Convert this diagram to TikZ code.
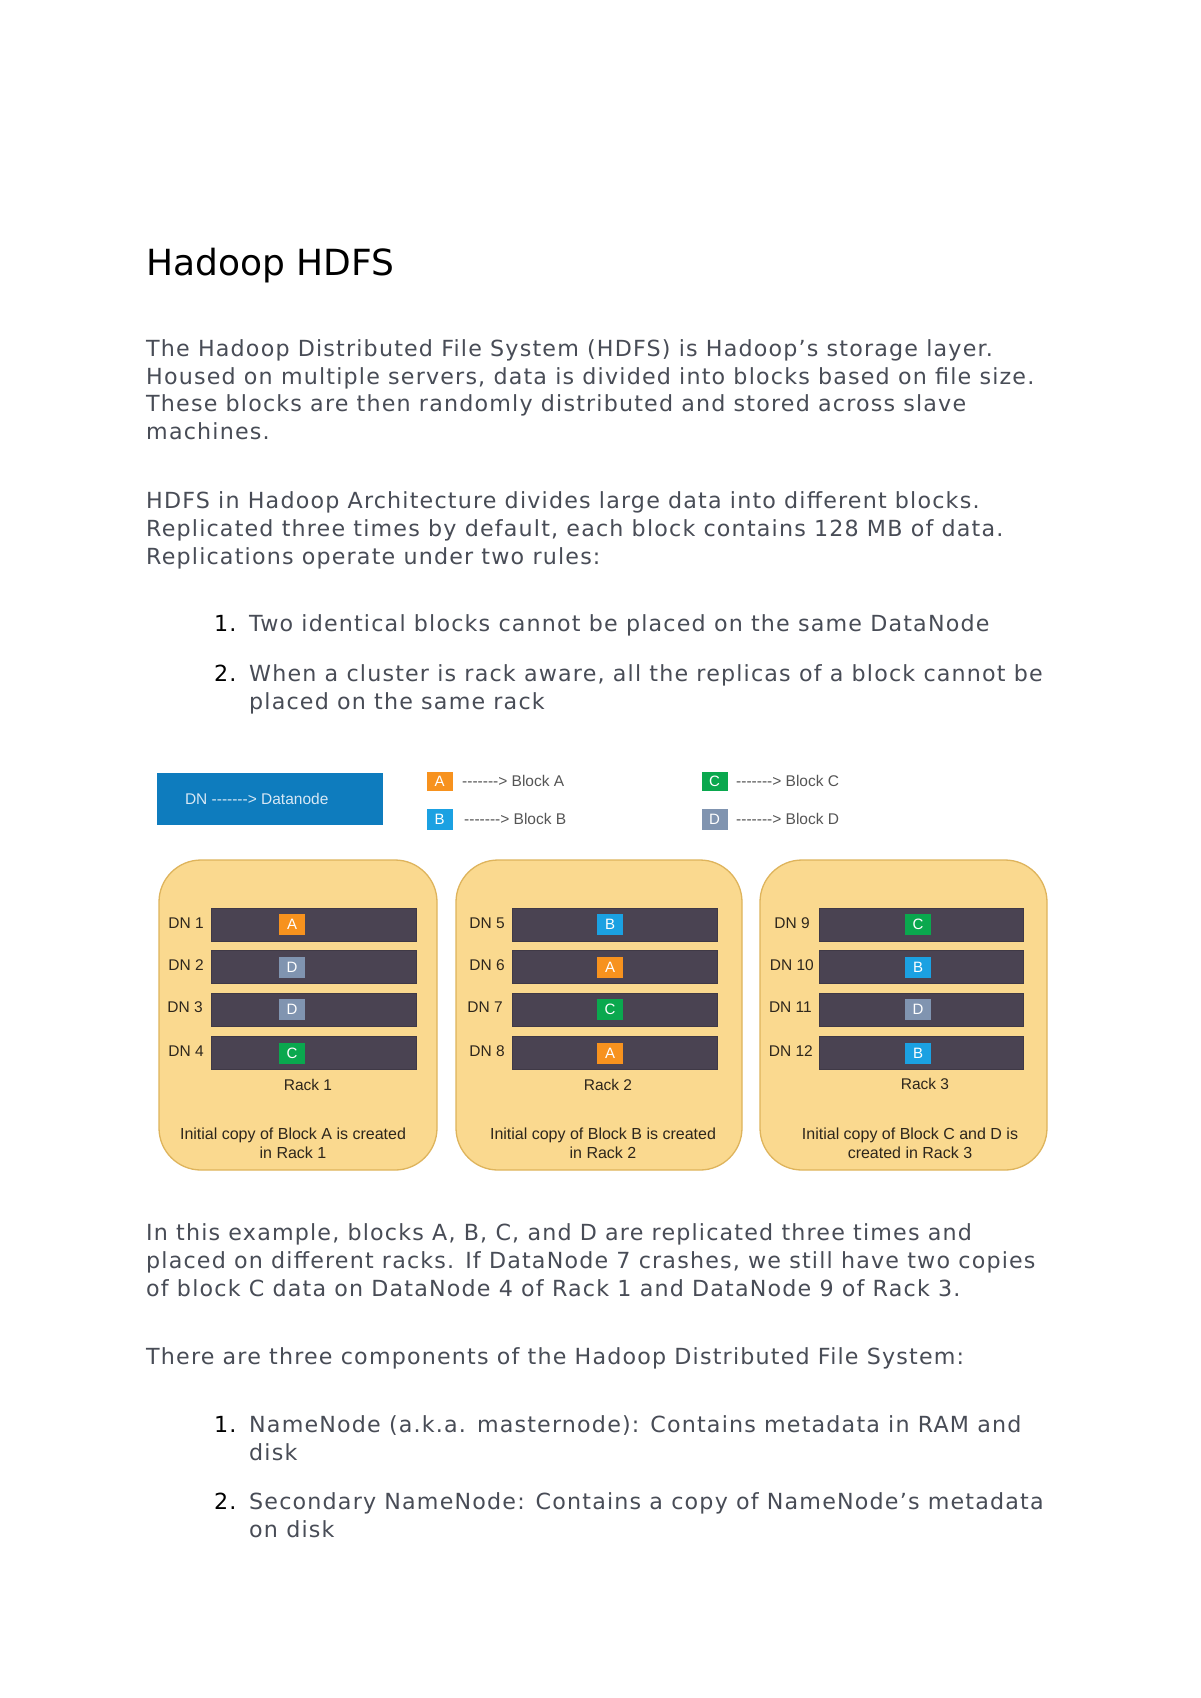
\documentclass[tikz,border=0pt]{standalone}
\usepackage{fontspec}
\setmainfont{DejaVu Sans}
\newfontfamily\bodyfont[LetterSpace=5.3]{DejaVu Sans}
\newfontfamily\diafont[Ligatures=TeXOff]{Liberation Sans}
\definecolor{bodytext}{RGB}{72,76,86}
\definecolor{dnblue}{RGB}{14,124,190}
\definecolor{dntextc}{RGB}{215,232,245}
\definecolor{blkA}{RGB}{247,146,30}
\definecolor{blkB}{RGB}{27,161,226}
\definecolor{blkC}{RGB}{10,168,78}
\definecolor{blkD}{RGB}{128,148,176}
\definecolor{rackfill}{RGB}{250,217,143}
\definecolor{rackedge}{RGB}{222,180,92}
\definecolor{barfill}{RGB}{74,67,82}
\definecolor{legtext}{RGB}{85,85,85}
\definecolor{racktext}{RGB}{45,38,28}
\tikzset{
  bodyline/.style={anchor=base west, inner sep=0pt, text=bodytext, font=\bodyfont\fontsize{22.2}{26}\selectfont},
  numline/.style={anchor=base west, inner sep=0pt, text=black, font=\bodyfont\fontsize{22.2}{26}\selectfont},
  titleline/.style={anchor=base west, inner sep=0pt, text=black, font=\fontsize{36}{40}\selectfont},
  rackbox/.style={draw=rackedge, fill=rackfill, line width=1.3pt, rounded corners=42pt, minimum height=310pt, inner sep=0pt},
  barbox/.style={fill=barfill, draw=barfill!85!black, line width=0.5pt, minimum width=205pt, minimum height=33pt, inner sep=0pt},
  blk/.style={minimum width=26pt, minimum height=21pt, inner sep=0pt, text=white, font=\diafont\fontsize{15}{15}\selectfont},
  dnlabel/.style={anchor=east, inner sep=0pt, text=racktext, font=\diafont\fontsize{15.5}{15.5}\selectfont},
  racklabel/.style={inner sep=0pt, text=racktext, font=\diafont\fontsize{15.5}{15.5}\selectfont},
  caption/.style={inner sep=0pt, align=center, text=racktext, font=\diafont\fontsize{16}{19}\selectfont},
  legtxt/.style={anchor=west, inner sep=0pt, text=legtext, font=\diafont\fontsize{15.5}{15.5}\selectfont},
}
\begin{document}
\begin{tikzpicture}[x=1pt,y=-1pt]
\useasboundingbox (0,0) rectangle (1200,1698);
\fill[white] (0,0) rectangle (1200,1698);

% ---------- text ----------
\node[titleline] (title) at (146,275) {Hadoop HDFS};

\node[bodyline] (p1a) at (146,356) {The Hadoop Distributed File System (HDFS) is Hadoop’s storage layer.};
\node[bodyline] (p1b) at (146,384) {Housed on multiple servers, data is divided into blocks based on file size.};
\node[bodyline] (p1c) at (146,411) {These blocks are then randomly distributed and stored across slave};
\node[bodyline] (p1d) at (146,439) {machines.};

\node[bodyline] (p2a) at (146,508) {HDFS in Hadoop Architecture divides large data into different blocks.};
\node[bodyline] (p2b) at (146,536) {Replicated three times by default, each block contains 128 MB of data.};
\node[bodyline] (p2c) at (146,564) {Replications operate under two rules:};

\node[numline] (n1) at (214,631) {1.};
\node[bodyline] (l1) at (249,631) {Two identical blocks cannot be placed on the same DataNode};
\node[numline] (n2) at (214,681) {2.};
\node[bodyline] (l2a) at (249,681) {When a cluster is rack aware, all the replicas of a block cannot be};
\node[bodyline] (l2b) at (249,709) {placed on the same rack};

\node[bodyline] (p3a) at (146,1240) {In this example, blocks A, B, C, and D are replicated three times and};
\node[bodyline] (p3b) at (146,1268) {placed on different racks. If DataNode 7 crashes, we still have two copies};
\node[bodyline] (p3c) at (146,1296) {of block C data on DataNode 4 of Rack 1 and DataNode 9 of Rack 3.};

\node[bodyline] (p4) at (146,1364) {There are three components of the Hadoop Distributed File System:};

\node[numline] (m1) at (214,1432) {1.};
\node[bodyline] (k1a) at (249,1432) {NameNode (a.k.a. masternode): Contains metadata in RAM and};
\node[bodyline] (k1b) at (249,1460) {disk};
\node[numline] (m2) at (214,1509) {2.};
\node[bodyline] (k2a) at (249,1509) {Secondary NameNode: Contains a copy of NameNode’s metadata};
\node[bodyline] (k2b) at (249,1537) {on disk};

% ---------- legend ----------
\node[fill=dnblue, minimum width=226pt, minimum height=52pt, inner sep=0pt] (dnbox) at (270,799) {};
\node[anchor=west, inner sep=0pt, text=dntextc, font=\diafont\fontsize{15.5}{15.5}\selectfont] (dntext) at ([xshift=28pt]dnbox.west) {DN -------> Datanode};

\node[blk, fill=blkA, minimum height=19pt] (legA) at (439.5,781.5) {A};
\node[legtxt] (legAt) at (462,781) {-------> Block A};
\node[blk, fill=blkB] (legB) at (439.5,819.5) {B};
\node[legtxt] (legBt) at (464,819) {-------> Block B};
\node[blk, fill=blkC, minimum height=19pt] (legC) at (714.5,781.5) {C};
\node[legtxt] (legCt) at (736,781) {-------> Block C};
\node[blk, fill=blkD] (legD) at (714.5,819.5) {D};
\node[legtxt] (legDt) at (736,819) {-------> Block D};

% ---------- racks ----------
\node[rackbox, minimum width=278pt] (rack1) at (298,1015) {};
\node[rackbox, minimum width=286pt] (rack2) at (599,1015) {};
\node[rackbox, minimum width=287pt] (rack3) at (903.5,1015) {};

% rack 1
\node[barbox] (b1) at (313.5,925) {};
\node[barbox] (b2) at (313.5,967) {};
\node[barbox] (b3) at (313.5,1010) {};
\node[barbox] (b4) at (313.5,1053) {};
\node[blk, fill=blkA] (x1) at (292,924) {A};
\node[blk, fill=blkD] (x2) at (292,967) {D};
\node[blk, fill=blkD] (x3) at (292,1009) {D};
\node[blk, fill=blkC] (x4) at (292,1053) {C};
\node[dnlabel] (d1) at (204,923) {DN 1};
\node[dnlabel] (d2) at (204,965) {DN 2};
\node[dnlabel] (d3) at (203,1007) {DN 3};
\node[dnlabel] (d4) at (204,1051) {DN 4};
\node[racklabel] (r1) at (308,1085) {Rack 1};
\node[caption] (c1) at (293,1143) {Initial copy of Block A is created\\in Rack 1};

% rack 2
\node[barbox] (b5) at (614.5,925) {};
\node[barbox] (b6) at (614.5,967) {};
\node[barbox] (b7) at (614.5,1010) {};
\node[barbox] (b8) at (614.5,1053) {};
\node[blk, fill=blkB] (x5) at (610,924) {B};
\node[blk, fill=blkA] (x6) at (610,967) {A};
\node[blk, fill=blkC] (x7) at (610,1009) {C};
\node[blk, fill=blkA] (x8) at (610,1053) {A};
\node[dnlabel] (d5) at (505,923) {DN 5};
\node[dnlabel] (d6) at (505,965) {DN 6};
\node[dnlabel] (d7) at (503,1007) {DN 7};
\node[dnlabel] (d8) at (505,1051) {DN 8};
\node[racklabel] (r2) at (608,1085) {Rack 2};
\node[caption] (c2) at (603,1143) {Initial copy of Block B is created\\in Rack 2};

% rack 3
\node[barbox, minimum width=204pt] (b9) at (921,925) {};
\node[barbox, minimum width=204pt] (b10) at (921,967) {};
\node[barbox, minimum width=204pt] (b11) at (921,1010) {};
\node[barbox, minimum width=204pt] (b12) at (921,1053) {};
\node[blk, fill=blkC] (x9) at (918,924) {C};
\node[blk, fill=blkB] (x10) at (918,967) {B};
\node[blk, fill=blkD] (x11) at (918,1009) {D};
\node[blk, fill=blkB] (x12) at (918,1053) {B};
\node[dnlabel] (d9) at (810,923) {DN 9};
\node[dnlabel] (d10) at (814,965) {DN 10};
\node[dnlabel] (d11) at (812,1007) {DN 11};
\node[dnlabel] (d12) at (813,1051) {DN 12};
\node[racklabel] (r3) at (925,1084) {Rack 3};
\node[caption] (c3) at (910,1143) {Initial copy of Block C and D is\\created in Rack 3};
\end{tikzpicture}
\end{document}
